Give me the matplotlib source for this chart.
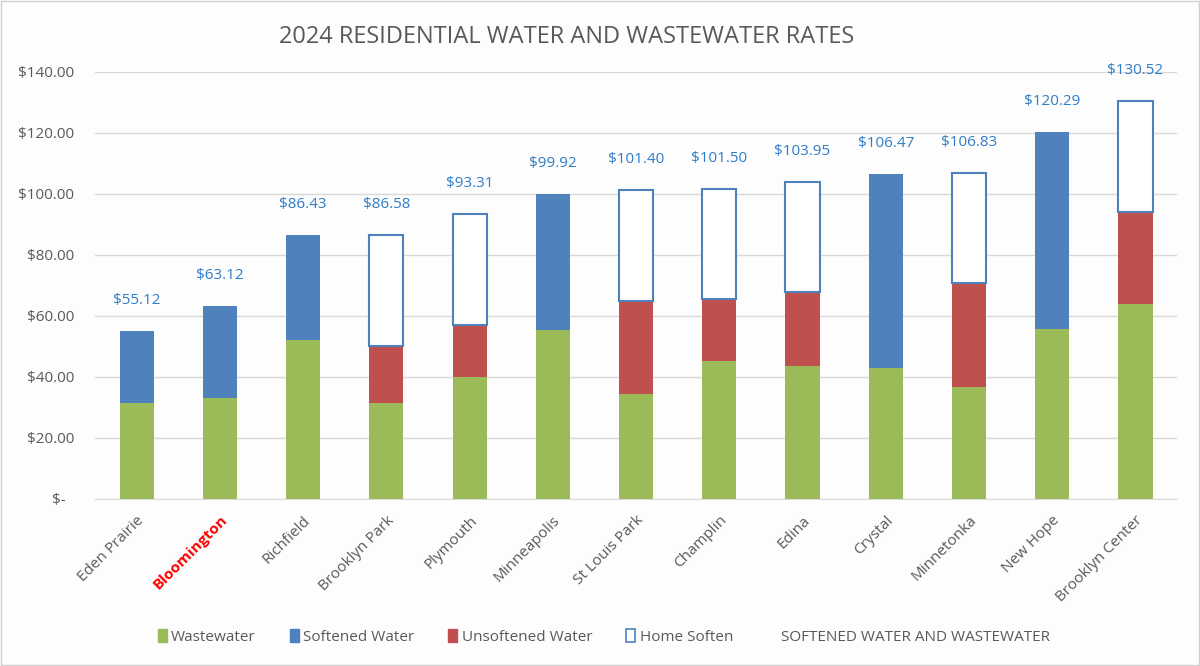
import matplotlib
matplotlib.use("Agg")
import matplotlib.pyplot as plt
from matplotlib.patches import Patch, Rectangle
import numpy as np

cities = ["Eden Prairie", "Bloomington", "Richfield", "Brooklyn Park", "Plymouth",
          "Minneapolis", "St Louis Park", "Champlin", "Edina", "Crystal",
          "Minnetonka", "New Hope", "Brooklyn Center"]
wastewater = [31.5, 33.0, 52.0, 31.5, 40.1, 55.4, 34.4, 45.3, 43.5, 43.0, 36.7, 55.8, 63.9]
softened = [23.62, 30.12, 34.43, 0, 0, 44.52, 0, 0, 0, 63.47, 0, 64.49, 0]
unsoftened = [0, 0, 0, 18.8, 16.9, 0, 30.6, 20.3, 24.5, 0, 34.2, 0, 30.3]
home_soften = [0, 0, 0, 36.28, 36.31, 0, 36.4, 35.9, 35.95, 0, 35.93, 0, 36.32]
totals = [55.12, 63.12, 86.43, 86.58, 93.31, 99.92, 101.40, 101.50, 103.95,
          106.47, 106.83, 120.29, 130.52]
yticks = [0, 20, 40, 60, 80, 100, 120, 140]
ytick_labels = ["$-  ", "$20.00", "$40.00", "$60.00", "$80.00", "$100.00", "$120.00", "$140.00"]

GREEN = "#9BBB59"
BLUE = "#4F81BD"
RED = "#C0504D"
GRAY = "#595959"
LABEL_BLUE = "#2F7DC8"

plt.rcParams['font.family'] = ['Open Sans', 'DejaVu Sans']

fig = plt.figure(figsize=(12, 6.66), dpi=100)
fig.patch.set_facecolor("#FCFDFC")
ax = fig.add_axes([0.0792, 0.2508, 0.9017, 0.6411])
ax.set_facecolor("#FCFDFC")

x = np.arange(len(cities))
w = 0.41
ww = np.array(wastewater)
sw = np.array(softened)
uw = np.array(unsoftened)
hs = np.array(home_soften)

ax.bar(x, ww, w, color=GREEN, zorder=3)
ax.bar(x, sw, w, bottom=ww, color=BLUE, zorder=3)
ax.bar(x, uw, w, bottom=ww + sw, color=RED, zorder=3)
mask = hs > 0
ax.bar(x[mask], hs[mask], w, bottom=(ww + sw + uw)[mask], facecolor="white",
       edgecolor=BLUE, linewidth=1.5, zorder=3)

for xi, t in zip(x, totals):
    ax.annotate(f"${t:.2f}", (xi, t), xytext=(0, 22), textcoords="offset points",
                ha="center", va="center", color=LABEL_BLUE, fontsize=11)

ax.set_xlim(-0.5, len(cities) - 0.5)
ax.set_ylim(0, 140)
ax.set_yticks(yticks)
ax.set_yticklabels(ytick_labels, color=GRAY, fontsize=11)
ax.grid(axis="y", color="#D9D9D9", linewidth=1, zorder=0)
for s in ["top", "right", "left"]:
    ax.spines[s].set_visible(False)
ax.spines["bottom"].set_color("#D9D9D9")
ax.tick_params(axis="y", length=0, pad=15)
ax.tick_params(axis="x", length=0, pad=10)
ax.set_xticks(x)
ax.set_xticklabels(cities, rotation=45, ha="right", rotation_mode="anchor",
                   color=GRAY, fontsize=11)
for lbl in ax.get_xticklabels():
    if lbl.get_text() == "Bloomington":
        lbl.set_color("#FF0000")
        lbl.set_fontweight("bold")

fig.text(0.472, 0.944, "2024 RESIDENTIAL WATER AND WASTEWATER RATES",
         ha="center", va="center", fontsize=17, color=GRAY)

handles = [Patch(facecolor=GREEN, edgecolor=GREEN),
           Patch(facecolor=BLUE, edgecolor=BLUE),
           Patch(facecolor=RED, edgecolor=RED),
           Patch(facecolor="white", edgecolor=BLUE, linewidth=1.2),
           Patch(facecolor="none", edgecolor="none")]
labels = ["Wastewater", "Softened Water", "Unsoftened Water", "Home Soften",
          "SOFTENED WATER AND WASTEWATER"]
leg = fig.legend(handles, labels, loc="center", bbox_to_anchor=(0.503, 0.044),
                 ncol=5, frameon=False, fontsize=11, handlelength=0.6,
                 handleheight=1.0, handletextpad=0.3, columnspacing=2.2)
for t in leg.get_texts():
    t.set_color(GRAY)

fig.patches.append(Rectangle((0.001, 0.001), 0.998, 0.997, transform=fig.transFigure,
                             fill=False, edgecolor="#D0D0D0", linewidth=1))

fig.savefig("out.png", dpi=100, facecolor=fig.get_facecolor())
